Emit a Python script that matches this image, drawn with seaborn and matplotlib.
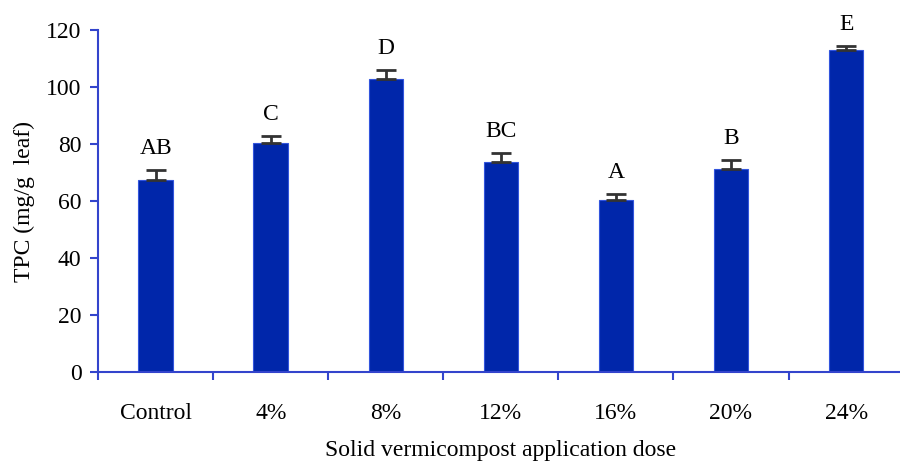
import numpy as np
import pandas as pd
import seaborn as sns
import matplotlib.pyplot as plt

# TPC values
doses = ["Control", "4%", "8%", "12%", "16%", "20%", "24%"]
tpc = [67.3, 80.4, 102.8, 73.7, 60.4, 71.2, 113.0]
err = [3.5, 2.4, 3.2, 3.1, 2.0, 3.2, 1.4]
letters = ["AB", "C", "D", "BC", "A", "B", "E"]

df = pd.DataFrame({"Dose": doses, "TPC": tpc})

sns.set_style("white")
plt.rcParams["font.family"] = ["Liberation Serif", "DejaVu Serif"]
plt.rcParams["text.color"] = "black"
plt.rcParams["axes.labelcolor"] = "black"
plt.rcParams["xtick.color"] = "black"
plt.rcParams["ytick.color"] = "black"

fig = plt.figure(figsize=(9, 4.63), dpi=100)
ax = fig.add_axes([0.109, 0.1965, 0.895, 0.7385])

bar_col = "#0026AA"
axis_col = "#3344CC"

sns.barplot(data=df, x="Dose", y="TPC", color=bar_col, width=0.3,
            saturation=1, errorbar=None, ax=ax)
for p in ax.patches:
    p.set_edgecolor("#3355DD")
    p.set_linewidth(0.8)

x = np.arange(len(doses))
ax.errorbar(x, tpc, yerr=[np.zeros(len(err)), err], fmt="none",
            ecolor="#333333", elinewidth=2, capsize=7, capthick=2)

for xi, v, e, lab in zip(x, tpc, err, letters):
    ax.text(xi, v + e + 4, lab, ha="center", va="bottom", fontsize=17)

ax.set_ylim(0, 120)
ax.set_xlim(-0.5, len(doses) - 0.5)
ax.set_yticks(range(0, 121, 20))
ax.set_xticks(x)
ax.set_xticklabels(doses)
ax.set_xticks(np.arange(-0.5, len(doses), 1.0), minor=True)
ax.tick_params(axis="x", which="major", bottom=True, length=0,
               labelsize=17, pad=22)
ax.tick_params(axis="x", which="minor", bottom=True, length=6, width=1.5,
               color=axis_col, direction="out")
ax.tick_params(axis="y", left=True, length=6, width=1.5, color=axis_col,
               labelsize=17, labelcolor="black", direction="out", pad=6)

for s in ["top", "right"]:
    ax.spines[s].set_visible(False)
for s in ["left", "bottom"]:
    ax.spines[s].set_color(axis_col)
    ax.spines[s].set_linewidth(1.5)

ax.set_xlabel("Solid vermicompost application dose", fontsize=17, labelpad=12)
ax.set_ylabel("TPC (mg/g  leaf)", fontsize=17, labelpad=8)

fig.savefig("out.png", dpi=100)
